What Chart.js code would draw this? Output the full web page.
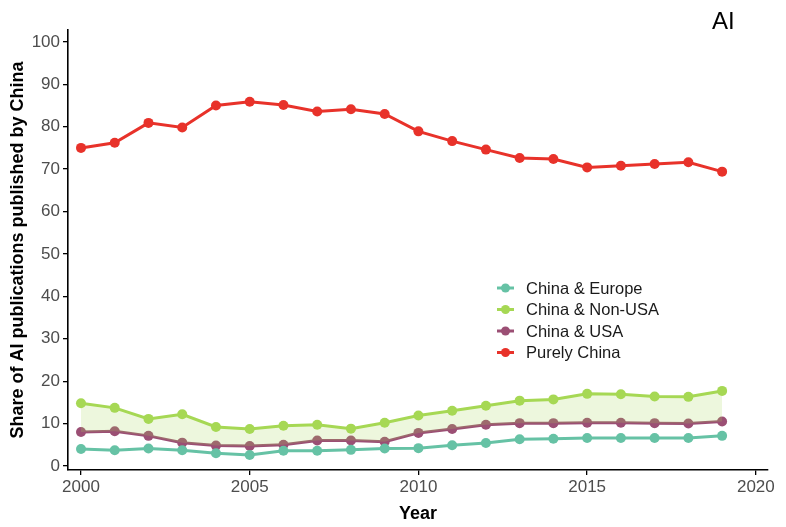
<!DOCTYPE html>
<html>
<head>
<meta charset="utf-8">
<script src="https://cdn.jsdelivr.net/npm/chart.js@4.4.1/dist/chart.umd.min.js"></script>
<style>
  html, body { margin: 0; padding: 0; background: #fff; }
  #wrap { width: 786px; height: 527px; }
</style>
</head>
<body>
<div id="wrap"><canvas id="ai-chart"></canvas></div>
<script>
// values
var years = [2000, 2001, 2002, 2003, 2004, 2005, 2006, 2007, 2008, 2009,
             2010, 2011, 2012, 2013, 2014, 2015, 2016, 2017, 2018, 2019];
var chinaEurope = [4.0, 3.7, 4.1, 3.7, 3.0, 2.6, 3.6, 3.6, 3.8, 4.1,
                   4.2, 4.9, 5.4, 6.3, 6.4, 6.6, 6.6, 6.6, 6.6, 7.1];
var chinaNonUSA = [14.8, 13.7, 11.1, 12.2, 9.2, 8.7, 9.5, 9.7, 8.8, 10.2,
                   11.9, 13.0, 14.2, 15.4, 15.7, 17.0, 16.9, 16.4, 16.3, 17.7];
var chinaUSA = [8.0, 8.2, 7.1, 5.5, 4.8, 4.7, 5.0, 6.0, 6.0, 5.7,
                7.8, 8.7, 9.7, 10.1, 10.1, 10.2, 10.2, 10.1, 10.0, 10.5];
var purelyChina = [75.0, 76.2, 80.9, 79.8, 85.0, 85.9, 85.1, 83.6, 84.1, 83.0,
                   78.9, 76.6, 74.6, 72.6, 72.4, 70.4, 70.8, 71.2, 71.6, 69.4];
var xTicks = [2000, 2005, 2010, 2015, 2020];
var yTicks = [0, 10, 20, 30, 40, 50, 60, 70, 80, 90, 100];

var FONT = "Arial, 'Liberation Sans', sans-serif";

function toPoints(vals) {
  return vals.map(function (v, i) { return { x: years[i], y: v }; });
}

function series(label, vals, color, extra) {
  var ds = {
    label: label,
    data: toPoints(vals),
    borderColor: color,
    backgroundColor: color,
    pointBackgroundColor: color,
    pointBorderColor: color,
    pointRadius: 5,
    pointBorderWidth: 0,
    borderWidth: 3,
    tension: 0,
    fill: false
  };
  for (var k in extra) ds[k] = extra[k];
  return ds;
}

var datasets = [
  series('China & Europe', chinaEurope, '#66c2a5'),
  series('China & Non-USA', chinaNonUSA, '#a6d854', { fill: 2, backgroundColor: 'rgba(166,216,84,0.2)' }),
  series('China & USA', chinaUSA, '#9b4f74'),
  series('Purely China', purelyChina, '#e8322a')
];

// legend and panel title drawn inside the plot, like the original
var overlay = {
  id: 'overlay',
  afterDraw: function (chart) {
    var c = chart.ctx;
    c.save();
    c.fillStyle = '#000';
    c.font = '24px ' + FONT;
    c.textAlign = 'left';
    c.textBaseline = 'middle';
    c.fillText('AI', 712, 22);

    var x0 = 497, y0 = 288, step = 21.5;
    chart.data.datasets.forEach(function (ds, i) {
      var y = y0 + i * step;
      c.strokeStyle = ds.borderColor;
      c.lineWidth = 3;
      c.beginPath();
      c.moveTo(x0, y);
      c.lineTo(x0 + 17, y);
      c.stroke();
      c.fillStyle = ds.borderColor;
      c.beginPath();
      c.arc(x0 + 8.5, y, 4.5, 0, Math.PI * 2);
      c.fill();
      c.fillStyle = '#1a1a1a';
      c.font = '16.5px ' + FONT;
      c.fillText(ds.label, x0 + 29, y + 1);
    });
    c.restore();
  }
};

var ctx = document.getElementById('ai-chart');
var myChart = new Chart(ctx, {
  type: 'line',
  data: { datasets: datasets },
  plugins: [overlay],
  options: {
    responsive: true,
    maintainAspectRatio: false,
    animation: false,
    layout: { padding: { top: 30, right: 18, left: 0, bottom: 0 } },
    plugins: {
      legend: { display: false },
      tooltip: { enabled: false }
    },
    scales: {
      x: {
        type: 'linear',
        min: 1999.615,
        max: 2020.36,
        afterBuildTicks: function (axis) {
          axis.ticks = xTicks.map(function (v) { return { value: v }; });
        },
        afterFit: function (axis) { axis.height = 57; },
        border: { display: true, color: '#000', width: 1.6 },
        grid: { drawOnChartArea: false, drawTicks: true, tickLength: 5, color: '#000', lineWidth: 1.3 },
        ticks: {
          color: '#4d4d4d',
          font: { family: FONT, size: 17 },
          padding: 2,
          maxRotation: 0,
          callback: function (v) { return String(v); }
        },
        title: {
          display: true,
          text: 'Year',
          color: '#000',
          font: { family: FONT, size: 18, weight: 'bold' },
          padding: { top: 0, bottom: 2 }
        }
      },
      y: {
        type: 'linear',
        min: -0.95,
        max: 102.8,
        afterBuildTicks: function (axis) {
          axis.ticks = yTicks.map(function (v) { return { value: v }; });
        },
        afterFit: function (axis) { axis.width = 68; },
        border: { display: true, color: '#000', width: 1.6 },
        grid: { drawOnChartArea: false, drawTicks: true, tickLength: 5, color: '#000', lineWidth: 1.3 },
        ticks: {
          color: '#4d4d4d',
          font: { family: FONT, size: 17 },
          padding: 3
        },
        title: {
          display: true,
          text: 'Share of AI publications published by China',
          color: '#000',
          font: { family: FONT, size: 18, weight: 'bold' },
          padding: { top: 7, bottom: 2 }
        }
      }
    }
  }
});
</script>
</body>
</html>
